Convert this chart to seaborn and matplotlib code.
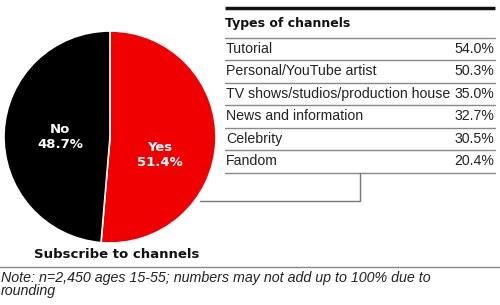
import matplotlib
matplotlib.use("Agg")
import matplotlib.pyplot as plt
import seaborn as sns

sns.set_theme(style="white")
plt.rcParams['font.family'] = ['Liberation Sans', 'DejaVu Sans']

# Data
pie_labels = ["Yes", "No"]
pie_values = [51.4, 48.7]
pie_colors = ["#f00000", "#000000"]

channel_types = ["Tutorial", "Personal/YouTube artist", "TV shows/studios/production house",
                 "News and information", "Celebrity", "Fandom"]
channel_values = [54.0, 50.3, 35.0, 32.7, 30.5, 20.4]

table_title = "Types of channels"
pie_title = "Subscribe to channels"
note_text = "Note: n=2,450 ages 15-55; numbers may not add up to 100% due to\nrounding"

W, H = 500, 305
fig = plt.figure(figsize=(W / 100, H / 100), dpi=100)
fig.patch.set_facecolor("white")

# Overlay axes in pixel coordinates
ax = fig.add_axes([0, 0, 1, 1])
ax.set_xlim(0, W)
ax.set_ylim(H, 0)
ax.axis("off")

# Pie axes
cx, cy, r = 110, 137, 106
pax = fig.add_axes([(cx - r) / W, (H - cy - r) / H, 2 * r / W, 2 * r / H])
wedges, _ = pax.pie(pie_values, colors=pie_colors, startangle=90, counterclock=False,
                    wedgeprops=dict(edgecolor="white", linewidth=1.2))
pax.set_xlim(-1, 1)
pax.set_ylim(-1, 1)
pax.set_aspect("equal")
pax.axis("off")

# Pie labels
pax.text(0.47, -0.17, f"{pie_labels[0]}\n{pie_values[0]:.1f}%", color="white",
         fontsize=9.5, fontweight="bold", ha="center", va="center", family="DejaVu Sans",
         linespacing=1.15)
pax.text(-0.47, 0.0, f"{pie_labels[1]}\n{pie_values[1]:.1f}%", color="white",
         fontsize=9.5, fontweight="bold", ha="center", va="center", family="DejaVu Sans",
         linespacing=1.15)

# Pie title
ax.text(117, 255, pie_title, fontsize=9.5, fontweight="bold", ha="center", va="center",
        family="DejaVu Sans", color="#111111")

# Table
x0, x1 = 225, 495
ax.plot([x0, x1], [8, 8], color="#111111", lw=2.5, solid_capstyle="butt")
ax.text(x0, 24, table_title, fontsize=9, fontweight="bold", ha="left", va="center",
        family="DejaVu Sans", color="#111111")
row_top = 37.5
row_h = 22.5
ax.plot([x0, x1], [row_top, row_top], color="#888888", lw=1)
for i, (name, val) in enumerate(zip(channel_types, channel_values)):
    yc = row_top + row_h * (i + 0.5)
    ax.text(x0 + 1, yc, name, fontsize=10.2, ha="left", va="center", color="#222222")
    ax.text(x1 - 1, yc, f"{val:.1f}%", fontsize=10.2, ha="right", va="center", color="#222222")
    yl = row_top + row_h * (i + 1)
    ax.plot([x0, x1], [yl, yl], color="#888888", lw=1)

# Connector
yb = row_top + row_h * 6
ax.plot([360, 360, 200], [yb, 201, 201], color="#777777", lw=1)

# Bottom rule and note
ax.plot([0, W], [267, 267], color="#888888", lw=1)
ax.text(1, 271, note_text, fontsize=10.3, style="italic", ha="left", va="top",
        color="#222222", linespacing=0.95)

fig.savefig("out.png", dpi=100, facecolor="white")
